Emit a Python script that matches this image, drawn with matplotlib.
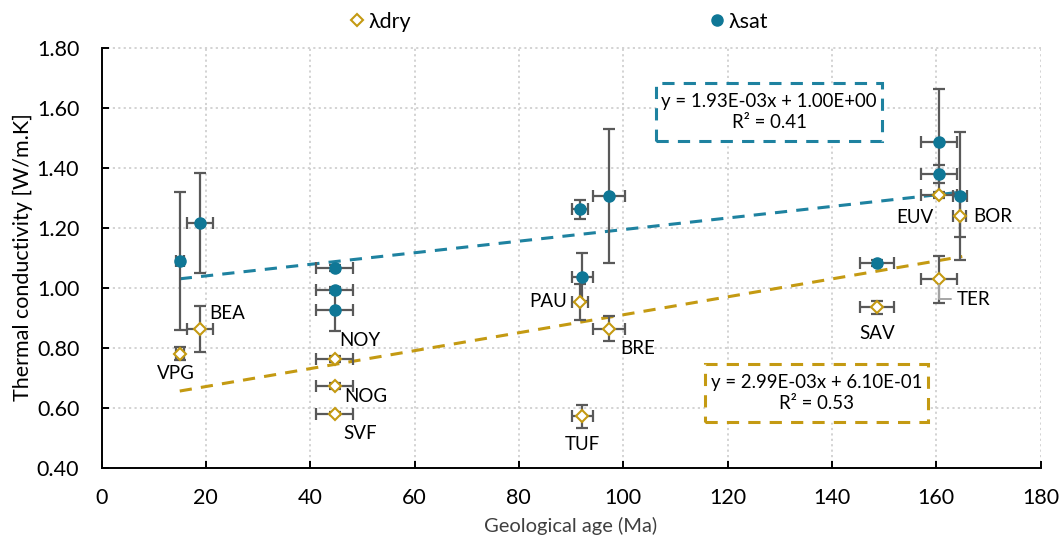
import matplotlib
matplotlib.use("Agg")
import matplotlib.pyplot as plt
from matplotlib.lines import Line2D
from matplotlib.patches import Rectangle

plt.rcParams['font.family'] = ['Lato', 'DejaVu Sans']

# ---- data ----
sat_age = [15.1, 18.9, 44.7, 44.7, 44.7, 91.7, 97.2, 92.2, 160.5, 160.5, 164.5, 148.7]
sat_val = [1.090, 1.215, 1.064, 0.992, 0.925, 1.261, 1.305, 1.035, 1.485, 1.377, 1.305, 1.083]
sat_age_err = [0.75, 2.55, 3.54, 3.54, 3.54, 1.6, 3.06, 2.1, 3.5, 3.5, 1.34, 3.3]
sat_val_err = [0.23, 0.167, 0.01, 0.01, 0.07, 0.031, 0.222, 0.08, 0.178, 0.03, 0.212, 0.01]

dry_labels = ["VPG", "BEA", "NOY", "NOG", "SVF", "PAU", "BRE", "TUF", "EUV", "BOR", "TER", "SAV"]
dry_age = [15.1, 18.9, 44.7, 44.7, 44.7, 91.7, 97.2, 92.2, 160.5, 164.5, 160.5, 148.7]
dry_val = [0.780, 0.862, 0.763, 0.673, 0.580, 0.953, 0.863, 0.571, 1.310, 1.239, 1.027, 0.934]
dry_age_err = [0.75, 2.55, 3.54, 3.54, 3.54, 1.6, 3.06, 2.1, 3.5, 1.2, 3.5, 3.3]
dry_val_err = [0.022, 0.078, 0.01, 0.01, 0.006, 0.06, 0.042, 0.038, 0.01, 0.072, 0.078, 0.021]

sat_fit = (1.93e-03, 1.00)   # slope, intercept
dry_fit = (2.99e-03, 0.61)
sat_r2 = 0.41
dry_r2 = 0.53
fit_range = (15.0, 165.0)

# ---- styles ----
SAT_C = "#0F7796"
SAT_LINE = "#1E82A0"
DRY_C = "#C49A12"
ERR_C = "#595959"
GRID_C = "#D0D0D0"

# label offsets in pixels (dx, dy, ha)
label_off = {
    "VPG": (-4, -20, "center"), "BEA": (9, 15, "left"), "NOY": (5, 18, "left"),
    "NOG": (10, -11, "left"), "SVF": (9, -20, "left"), "PAU": (-13, 0, "right"),
    "BRE": (12, -20, "left"), "TUF": (0, -28, "center"), "EUV": (-5, -23, "right"),
    "BOR": (14, -1, "left"), "TER": (18, -20, "left"), "SAV": (0, -26, "center"),
}

fig = plt.figure(figsize=(10.6, 5.45), dpi=100)
ax = fig.add_axes([101.5 / 1060, 1 - 467.5 / 545, (1040.5 - 101.5) / 1060, (467.5 - 47.5) / 545])

ax.set_xlim(0, 180)
ax.set_ylim(0.40, 1.80)
ax.set_xticks(range(0, 181, 20))
ax.set_yticks([0.4 + 0.2 * i for i in range(8)])
ax.set_yticklabels([f"{0.4 + 0.2 * i:.2f}" for i in range(8)])
ax.grid(True, color=GRID_C, linestyle=(0, (1.2, 1.8)), linewidth=1.3)
ax.set_axisbelow(True)
for s in ("top", "right"):
    ax.spines[s].set_visible(False)
for s in ("left", "bottom"):
    ax.spines[s].set_linewidth(1.4)
    ax.spines[s].set_color("black")
ax.tick_params(direction="in", length=5, width=1.4, labelsize=15.5, colors="black")
ax.tick_params(axis="y", pad=16)
ax.tick_params(axis="x", pad=15)

# trend lines
xs = list(fit_range)
ax.plot(xs, [sat_fit[0] * x + sat_fit[1] for x in xs], color=SAT_LINE, lw=2.2,
        linestyle=(0, (4, 3)), zorder=2)
ax.plot(xs, [dry_fit[0] * x + dry_fit[1] for x in xs], color=DRY_C, lw=2.2,
        linestyle=(0, (4, 3)), zorder=2)

# error bars + markers
ax.errorbar(sat_age, sat_val, xerr=sat_age_err, yerr=sat_val_err, fmt="none",
            ecolor=ERR_C, elinewidth=1.6, capsize=4, capthick=1.6, zorder=3)
ax.errorbar(dry_age, dry_val, xerr=dry_age_err, yerr=dry_val_err, fmt="none",
            ecolor=ERR_C, elinewidth=1.6, capsize=4, capthick=1.6, zorder=3)
ax.plot(sat_age, sat_val, "o", ms=8, color=SAT_C, zorder=4, label="λsat")
ax.plot(dry_age, dry_val, "D", ms=6, mfc="white", mec=DRY_C, mew=1.5, zorder=5, label="λdry")

# point labels
for lab, x, y in zip(dry_labels, dry_age, dry_val):
    dx, dy, ha = label_off[lab]
    if lab == "TER":
        ax.annotate(lab, xy=(x, y), xytext=(dx, dy), textcoords="offset pixels",
                    ha=ha, va="center", fontsize=13.5,
                    arrowprops=dict(arrowstyle="-", color="#A6A6A6", lw=1.4,
                                    connectionstyle="angle,angleA=0,angleB=90,rad=0",
                                    shrinkA=2, shrinkB=4, relpos=(0, 0.5)), zorder=6)
    else:
        ax.annotate(lab, xy=(x, y), xytext=(dx, dy), textcoords="offset pixels",
                    ha=ha, va="center", fontsize=13.5, zorder=6)

# equation boxes
def eq_box(x0, y0, x1, y1, color, text):
    r = Rectangle((x0 / 1060, 1 - y1 / 545), (x1 - x0) / 1060, (y1 - y0) / 545,
                  transform=fig.transFigure, fill=True, facecolor="white", edgecolor=color,
                  lw=2.2, linestyle=(0, (4, 3)), zorder=7)
    fig.patches.append(r)
    fig.text((x0 + x1) / 2 / 1060, 1 - (y0 + y1) / 2 / 545, text, ha="center", va="center",
             fontsize=13.4, linespacing=1.35, zorder=8)

eq_box(656, 83, 882, 141, SAT_LINE,
       f"y = {sat_fit[0]:.2E}x + {sat_fit[1]:.2E}\nR² = {sat_r2:.2f}")
eq_box(705, 364, 928, 422, DRY_C,
       f"y = {dry_fit[0]:.2E}x + {dry_fit[1]:.2E}\nR² = {dry_r2:.2f}")

ax.set_xlabel("Geological age (Ma)", fontsize=14.5, color="#404040", labelpad=6)
ax.set_ylabel("Thermal conductivity [W/m.K]", fontsize=15.5, color="#000000", labelpad=3)

# legend
handles = [Line2D([], [], marker="D", ls="none", ms=6, mfc="white", mec=DRY_C, mew=1.5),
           Line2D([], [], marker="o", ls="none", ms=8, color=SAT_C)]
fig.legend(handles, ["λdry", "λsat"], loc="center", bbox_to_anchor=(0.5255, 1 - 22 / 545),
           ncol=2, frameon=False, fontsize=15.5, handletextpad=0.05, columnspacing=13.7,
           handlelength=1.0)

fig.savefig("out.png", dpi=100)
